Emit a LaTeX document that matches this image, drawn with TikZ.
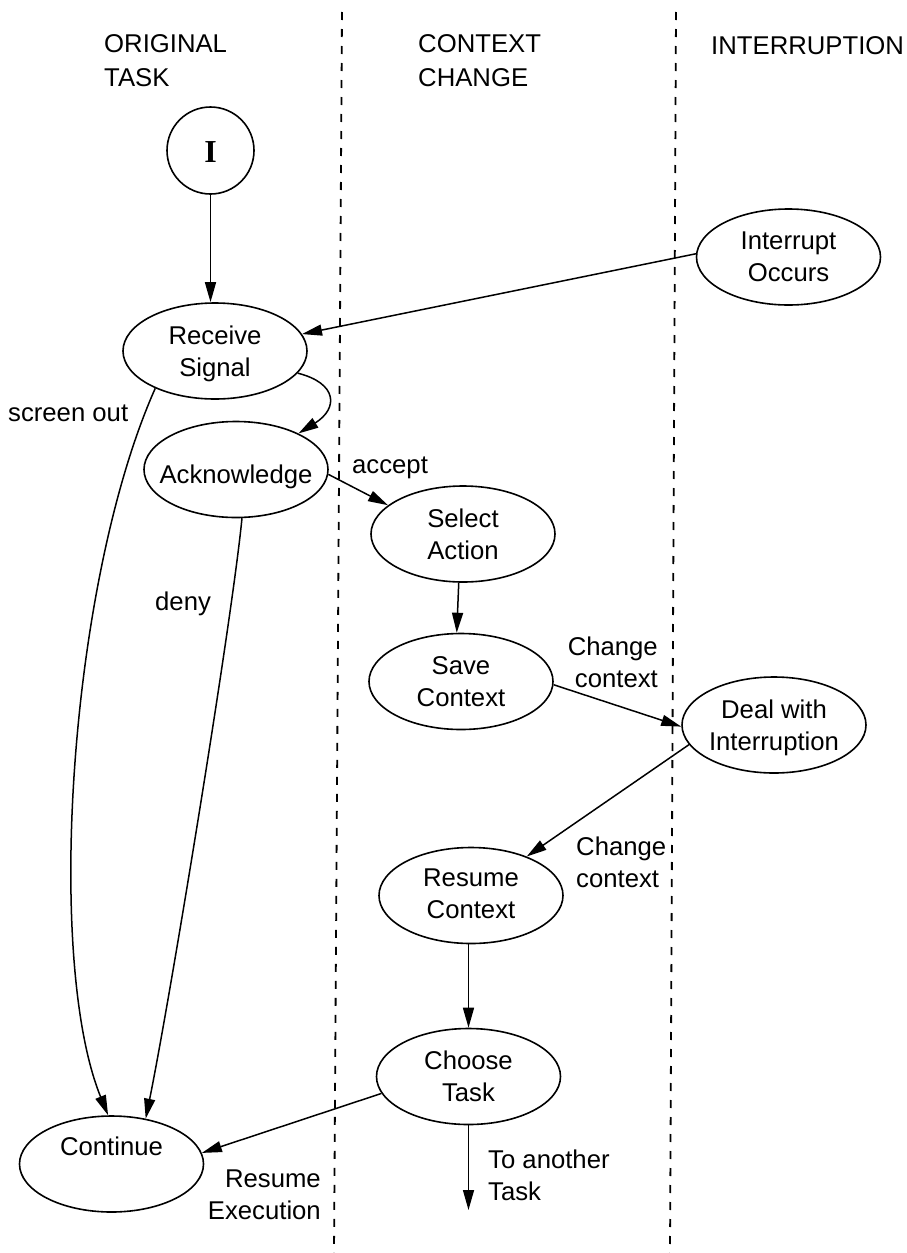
\documentclass[tikz,border=0pt]{standalone}
\usepackage{fontspec}
\setmainfont{Liberation Sans}
\newfontfamily\initialfont{Liberation Serif}
\usetikzlibrary{arrows.meta,shapes.geometric}

\tikzset{
  txt/.style={inner sep=0pt, font=\fontsize{25.7}{32}\selectfont},
  head/.style={inner sep=0pt, font=\fontsize{25.7}{34}\selectfont, anchor=north west, align=left},
  oval/.style={ellipse, draw, line width=1.6pt, minimum width=184pt, minimum height=96pt, inner sep=0pt},
  ovallab/.style={txt, align=center},
  link/.style={line width=1.5pt, -{Triangle[length=20pt,width=11pt]}},
  lane/.style={line width=1.8pt, dash pattern=on 8pt off 9pt},
}

\begin{document}
\begin{tikzpicture}[x=1pt,y=-1pt]
  \useasboundingbox (0,0) rectangle (907,1253);

  % swim-lane separators
  \draw[lane] (342,12) -- (334,1253);
  \draw[lane] (676,12) -- (670,1253);

  % lane headings
  \node[head] (hOrig) at (104,34.5) {ORIGINAL\\TASK};
  \node[head] (hCtx)  at (418,34.5) {CONTEXT\\CHANGE};
  \node[head] (hInt)  at (711,36.5) {INTERRUPTION};

  % states
  \node[circle, draw, line width=1.6pt, minimum size=87pt, inner sep=0pt,
        label={[inner sep=0pt, yshift=-2pt]center:{\initialfont\bfseries\fontsize{32}{36}\selectfont I}}]
        (I) at (210.5,150.5) {};
  \node[oval, label={[ovallab]center:Interrupt\\Occurs}] (io) at (788.5,257) {};
  \node[oval, label={[ovallab, yshift=-3pt]center:Receive\\Signal}] (rs) at (215,351) {};
  \node[oval, label={[ovallab, yshift=-7pt]center:Acknowledge}] (ack) at (236,469.5) {};
  \node[oval, label={[ovallab]center:Select\\Action}] (sel) at (463,534) {};
  \node[oval, label={[ovallab]center:Save\\Context}] (save) at (461,681.5) {};
  \node[oval, label={[ovallab, yshift=-3pt]center:Deal with\\Interruption}] (deal) at (774,725) {};
  \node[oval, label={[ovallab, yshift=2pt]center:Resume\\Context}] (res) at (471,895.5) {};
  \node[oval, label={[ovallab]center:Choose\\Task}] (choose) at (468.5,1076.5) {};
  \node[oval, label={[ovallab, yshift=18pt]center:Continue}] (cont) at (111.5,1164) {};
  \coordinate (away) at (468.5,1210);

  % transitions
  \draw[link] (I.south) -- (I.south |- rs.north);
  \draw[link] (io.178) -- (rs.11);
  \draw[link] (rs.-15) .. controls +(40,10) and +(40,-25) .. (ack.30);
  \draw[link] (ack.-3) -- (sel.159);
  \draw[link] (sel.-95) -- (save.95);
  \draw[link] (save.-2) -- (deal.181);
  \draw[link] (deal.193) -- (res.35);
  \draw[link] (choose.north |- res.south) -- (choose.north);
  \draw[link] (choose.south) -- (away);
  \draw[link] (choose.191) -- (cont.7);
  \draw[link] (rs.212) .. controls +(-86,193) and +(-63,-155) .. (cont.94);
  \draw[link] (ack.-83) .. controls +(-10,103) and +(24,-118) .. (cont.53);

  % transition labels
  \node[txt, anchor=base west] (lScreen) at (8,421) {screen out};
  \node[txt, anchor=base west] (lAccept) at (352,473) {accept};
  \node[txt, anchor=base west] (lDeny) at (155,610) {deny};
  \node[txt, anchor=north east, align=right] (lChg1) at (658,637) {Change\\context};
  \node[txt, anchor=north west, align=left] (lChg2) at (576,836.5) {Change\\context};
  \node[txt, anchor=north west, align=left] (lAnother) at (488,1149.5) {To another\\Task};
  \node[txt, anchor=north east, align=right] (lResume) at (321,1169.5) {Resume\\Execution};
\end{tikzpicture}
\end{document}
